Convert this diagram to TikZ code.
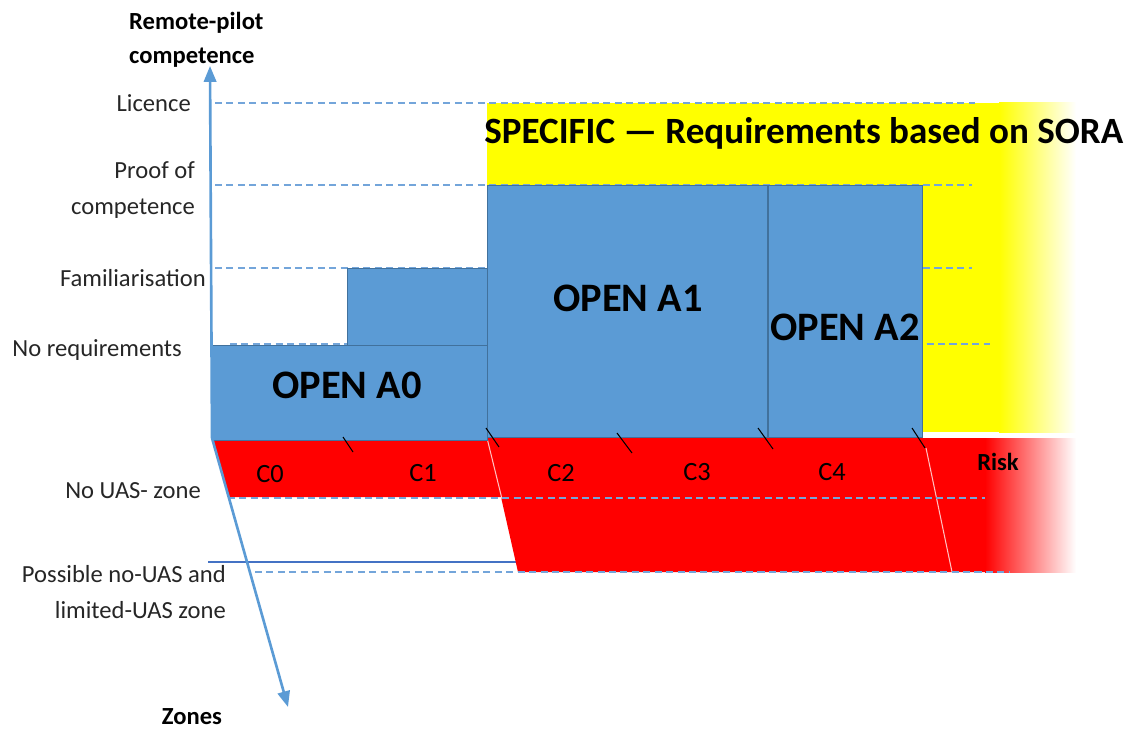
\documentclass[tikz,border=0pt]{standalone}
\usepackage{fontspec}
\setmainfont{Carlito}
\usetikzlibrary{arrows.meta}
\definecolor{easaBlue}{RGB}{91,155,213}
\definecolor{easaEdge}{RGB}{65,113,156}
\definecolor{easaRed}{RGB}{255,0,0}
\definecolor{easaYellow}{RGB}{255,255,0}
\definecolor{gridBlue}{RGB}{115,165,218}
\definecolor{limitBlue}{RGB}{68,114,196}

\begin{document}
\begin{tikzpicture}[x=0.02cm, y=-0.02cm,
        openBox/.style={rectangle, draw=easaEdge, line width=0.5pt, fill=easaBlue, anchor=north west, inner sep=0pt, outer sep=0pt},
        openLabel/.style={font=\fontsize{23}{26}\selectfont\bfseries, text=black},
        levelText/.style={font=\fontsize{14}{20}\selectfont, anchor=east, align=right, text=black!85},
        axisTitle/.style={font=\fontsize{14}{19}\selectfont\bfseries, align=left},
        classText/.style={font=\fontsize{15}{17}\selectfont, text=black},
        gridLine/.style={draw=gridBlue, line width=0.6pt, dash pattern=on 4pt off 2.5pt},
        axisLine/.style={draw=easaBlue, line width=1.5pt, -{Triangle[length=9pt, width=7pt]}},
        riskTick/.style={draw=black, line width=0.6pt}
    ]
        \useasboundingbox (0,0) rectangle (1129,729);
        % specific category and risk band
        \fill[easaYellow] (487,103) rectangle (1000,432);
        \shade[left color=easaYellow, right color=white] (999,103) rectangle (1076,432);
        \coordinate (limitStart) at (208,562);
        \coordinate (limitEnd) at (518,562);
        \draw[limitBlue, line width=1.3pt] (limitStart) -- (limitEnd);
        \fill[easaRed] (213,438) -- (986,438) -- (986,572) -- (518,572) -- (501,497) -- (228,497) -- cycle;
        \shade[left color=easaRed, right color=white] (985,438) rectangle (1076,572);
        \draw[white!75!easaRed, line width=0.6pt] (487,438) -- (502,499);
        \draw[white!75!easaRed, line width=0.6pt] (926,448) -- (952,572);
        % competence levels and zones
        \draw[gridLine] (215,103) -- (975,103);
        \draw[gridLine] (215,185) -- (972,185);
        \draw[gridLine] (215,268) -- (972,268);
        \draw[gridLine] (230,344) -- (990,344);
        \draw[gridLine] (228,498) -- (985,498);
        \draw[gridLine] (255,572) -- (1010,572);
        % open category boxes
        \node[openBox, minimum width=2.8cm, minimum height=1.54cm] (stepBox) at (347,268) {};
        \node[openBox, minimum width=5.5cm, minimum height=1.9cm] (boxA0) at (212,345) {};
        \node[openBox, minimum width=5.6cm, minimum height=5.04cm] (boxA1) at (487,185) {};
        \node[openBox, minimum width=3.08cm, minimum height=5.04cm] (boxA2) at (768,185) {};
        \node[openLabel] (labelA0) at (347,385) {OPEN A0};
        \node[openLabel] (labelA1) at (628,298) {OPEN A1};
        \node[openLabel] (labelA2) at (845,327) {OPEN A2};
        \node[font=\fontsize{21.1}{24}\selectfont\bfseries, anchor=west, inner sep=0pt] (specific) at (484,133) {SPECIFIC — Requirements based on SORA};
        % class marks
        \draw[riskTick] (343,437) -- (353,452);
        \draw[riskTick] (486,428) -- (499,447);
        \draw[riskTick] (617,433) -- (632,453);
        \draw[riskTick] (758,428) -- (773,449);
        \draw[riskTick] (912,428) -- (925,448);
        \node[classText] (c0) at (270,474) {C0};
        \node[classText] (c1) at (423,473) {C1};
        \node[classText] (c2) at (561,473) {C2};
        \node[classText] (c3) at (697,472) {C3};
        \node[classText] (c4) at (832,472) {C4};
        \node[classText, font=\fontsize{14}{16}\selectfont\bfseries] (risk) at (998,462) {Risk};
        % axes
        \coordinate (origin) at (212,438);
        \coordinate (compTip) at (210,66);
        \coordinate (zoneTip) at (288,707);
        \draw[axisLine] (origin) -- (compTip);
        \draw[axisLine] (origin) -- (zoneTip);
        \node[axisTitle, anchor=west] (compTitle) at (123,40) {Remote-pilot\\competence};
        \node[axisTitle] (zoneTitle) at (192,717) {Zones};
        \node[levelText] (licence) at (197,103) {Licence};
        \node[levelText] (proof) at (201,190) {Proof of\\competence};
        \node[levelText] (famil) at (212,278) {Familiarisation};
        \node[levelText] (noReq) at (188,350) {No requirements};
        \node[levelText] (noUas) at (207,491) {No UAS- zone};
        \node[levelText] (limited) at (232,592) {Possible no-UAS and\\limited-UAS zone};
    \end{tikzpicture}
\end{document}
